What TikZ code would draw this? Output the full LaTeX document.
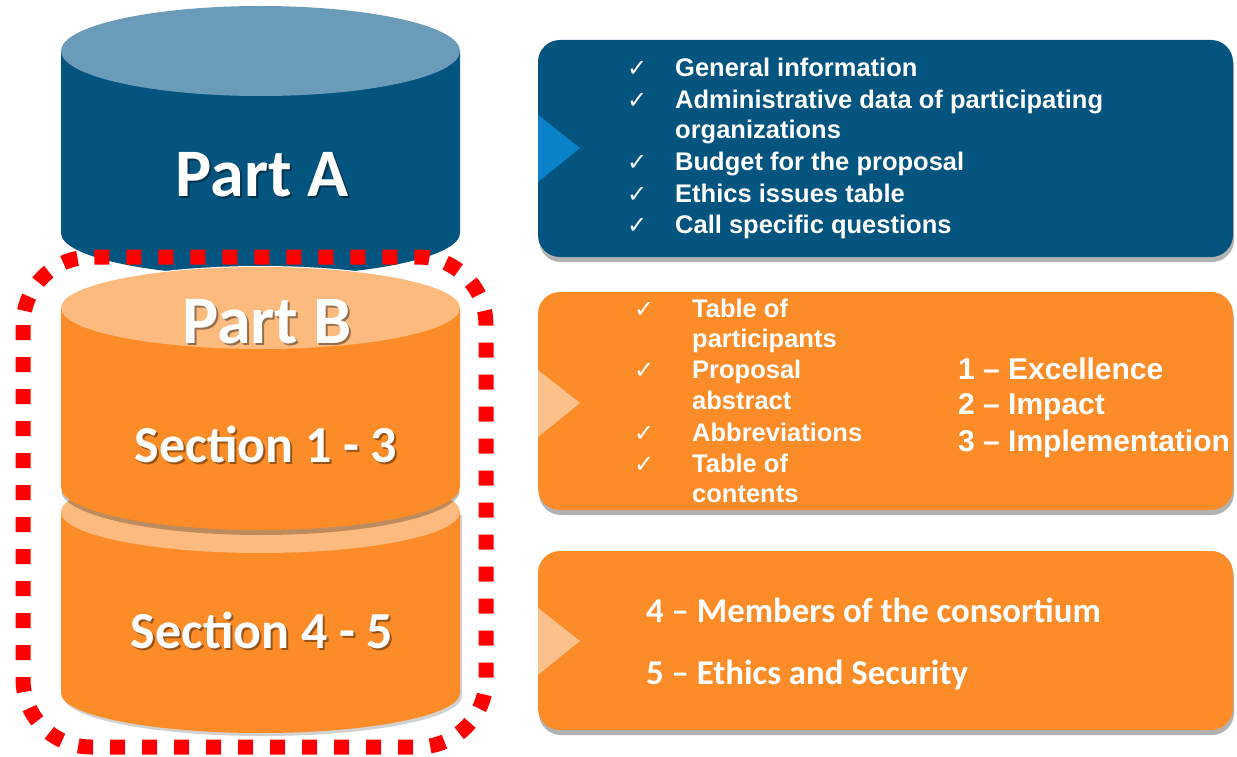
\documentclass[tikz,border=0pt]{standalone}
\usepackage{fontspec}
\setmainfont{Liberation Sans}
\newfontfamily\calfont{Carlito}
\newfontfamily\dvsfont{DejaVu Sans}
\usetikzlibrary{shadows}
\definecolor{dblue}{RGB}{4,84,128}
\definecolor{tblue}{RGB}{106,156,185}
\definecolor{triblue}{RGB}{10,130,202}
\definecolor{orng}{RGB}{251,140,40}
\definecolor{lorng}{RGB}{253,186,126}
\definecolor{triorng}{RGB}{252,192,138}
\definecolor{redd}{RGB}{255,0,0}
\begin{document}
\begin{tikzpicture}[x=1pt,y=-1pt,
  bigtxt/.style={font=\calfont\bfseries\fontsize{68}{68}\selectfont, text=white, anchor=base, inner sep=0pt},
  sectxt/.style={font=\calfont\bfseries\fontsize{52}{52}\selectfont, text=white, anchor=base, inner sep=0pt},
  shd/.style={text=black, opacity=0.4},
  infobox/.style={rounded corners=22pt, drop shadow={shadow xshift=1pt, shadow yshift=-5pt, fill=black, opacity=0.3}},
  itemtxt/.style={font=\bfseries\fontsize{25.5}{25.5}\selectfont, text=white, anchor=base west, inner sep=0pt},
  numtxt/.style={font=\bfseries\fontsize{30}{30}\selectfont, text=white, anchor=base west, inner sep=0pt},
  caltxt/.style={font=\calfont\bfseries\fontsize{34.8}{34.8}\selectfont, text=white, anchor=base west, inner sep=0pt},
  chk/.style={font=\dvsfont\fontsize{24}{24}\selectfont, text=white, anchor=base west, inner sep=0pt},
  frame/.style={draw=redd, line width=15pt, dash pattern=on 15pt off 17pt, rounded corners=68pt}
]
\useasboundingbox (0,0) rectangle (1237,757);
\fill[white] (0,0) rectangle (1237,757);

% ---------- Part A cylinder ----------
\fill[dblue] (61,51) -- (61,233) arc[start angle=180, end angle=360, x radius=199.5pt, y radius=43pt] -- (460,51) -- cycle;
\fill[tblue] (260.5,51) ellipse [x radius=199.5pt, y radius=45pt];

% ---------- Section 4-5 cylinder ----------
\fill[black, opacity=0.18] (63,515) -- (63,696) arc[start angle=180, end angle=360, x radius=199.5pt, y radius=40pt] -- (462,515) -- cycle;
\fill[orng] (61,512) -- (61,693) arc[start angle=180, end angle=360, x radius=199.5pt, y radius=40pt] -- (460,512) -- cycle;
\fill[lorng] (260.5,512) ellipse [x radius=199.5pt, y radius=41pt];

% ---------- Section 1-3 cylinder (Part B) ----------
\fill[black, opacity=0.25] (61,492) -- (61,490) arc[start angle=180, end angle=360, x radius=199.5pt, y radius=45pt] -- (460,492) -- cycle;
\draw[white, line width=2pt] (260.5,308) ellipse [x radius=199.5pt, y radius=41pt];
\fill[orng] (61,308) -- (61,487) arc[start angle=180, end angle=360, x radius=199.5pt, y radius=43pt] -- (460,308) -- cycle;
\fill[lorng] (260.5,308) ellipse [x radius=199.5pt, y radius=41pt];

% ---------- cylinder labels ----------
\node[bigtxt, shd] (partAs) at (264,198) {Part A};
\node[bigtxt] (partA) at (262,196) {Part A};
\node[bigtxt, shd] (partBs) at (269,345) {Part B};
\node[bigtxt] (partB) at (267,343) {Part B};
\node[sectxt, shd] (sec13s) at (268,464) {Section 1 - 3};
\node[sectxt] (sec13) at (266,462) {Section 1 - 3};
\node[sectxt, shd] (sec45s) at (264,650) {Section 4 - 5};
\node[sectxt] (sec45) at (262,648) {Section 4 - 5};

% ---------- right boxes ----------
\path[fill=dblue, infobox] (538,40) rectangle (1233,257);
\fill[triblue] (538,115) -- (580,148) -- (538,182) -- cycle;
\path[fill=orng, infobox] (538,292) rectangle (1233,510);
\fill[triorng] (538,370) -- (580,403) -- (538,437) -- cycle;
\path[fill=orng, infobox] (538,551) rectangle (1233,730);
\fill[triorng] (538,608) -- (580,641) -- (538,675) -- cycle;

% box A texts
\node[chk] (ca1) at (627,77) {✓};
\node[itemtxt] (ta1) at (675,77) {General information};
\node[chk] (ca2) at (627,109) {✓};
\node[itemtxt] (ta2) at (675,109) {Administrative data of participating};
\node[itemtxt] (ta2b) at (675,139) {organizations};
\node[chk] (ca3) at (627,171) {✓};
\node[itemtxt] (ta3) at (675,171) {Budget for the proposal};
\node[chk] (ca4) at (627,202) {✓};
\node[itemtxt] (ta4) at (675,202) {Ethics issues table};
\node[chk] (ca5) at (627,233) {✓};
\node[itemtxt] (ta5) at (675,233) {Call specific questions};

% box B texts
\node[chk] (cb1) at (634,317) {✓};
\node[itemtxt] (tb1) at (692,317) {Table of};
\node[itemtxt] (tb1b) at (692,347) {participants};
\node[chk] (cb2) at (634,378) {✓};
\node[itemtxt] (tb2) at (692,378) {Proposal};
\node[itemtxt] (tb2b) at (692,409) {abstract};
\node[chk] (cb3) at (634,441) {✓};
\node[itemtxt] (tb3) at (692,441) {Abbreviations};
\node[chk] (cb4) at (634,472) {✓};
\node[itemtxt] (tb4) at (692,472) {Table of};
\node[itemtxt] (tb4b) at (692,502) {contents};
\node[numtxt] (n1) at (958,379) {1 – Excellence};
\node[numtxt] (n2) at (958,414) {2 – Impact};
\node[numtxt] (n3) at (958,451) {3 – Implementation};

% box C texts
\node[caltxt] (m4) at (646,622) {4 – Members of the consortium};
\node[caltxt] (m5) at (646,684) {5 – Ethics and Security};

% ---------- red dotted frame ----------
\draw[frame] (23,257) rectangle (486,747);
\end{tikzpicture}
\end{document}
